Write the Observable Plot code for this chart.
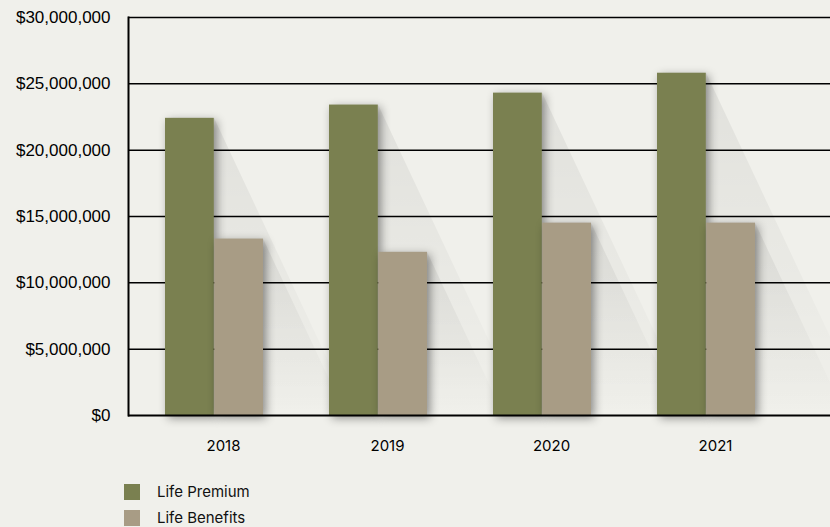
<!DOCTYPE html>
<html><head><meta charset="utf-8">
<script src="https://cdn.jsdelivr.net/npm/d3@7"></script>
<script src="https://cdn.jsdelivr.net/npm/@observablehq/plot@0.6"></script>
<style>
html,body{margin:0;padding:0;background:#f0f0eb;}
#chart svg{display:block;}
g[aria-label="bar"]{filter:drop-shadow(3px 3px 5px rgba(0,0,0,0.42));}
#legend{padding-left:124px;margin-top:14px;font-family:"Inter","Open Sans",sans-serif;font-size:15px;line-height:16px;color:#111;}
#legend .item{display:flex;align-items:center;height:16px;margin-bottom:10px;}
#legend .sw{width:16px;height:16px;margin-right:17px;}
</style></head><body>
<div id="chart"></div>
<div id="legend"></div>
<script>
const years = ["2018", "2019", "2020", "2021"];
const lifePremium = [22400000, 23400000, 24300000, 25800000];
const lifeBenefits = [13300000, 12300000, 14500000, 14500000];
const yTicks = [0, 5000000, 10000000, 15000000, 20000000, 25000000, 30000000];
const seriesNames = ["Life Premium", "Life Benefits"];
const seriesColors = ["#7a8050", "#a89c85"];

const premiumRows = years.map((y, i) => ({year: y, value: lifePremium[i]}));
const benefitRows = years.map((y, i) => ({year: y, value: lifeBenefits[i]}));
const fmt = d => "$" + d3.format(",")(d);

const chart = Plot.plot({
  width: 830, height: 470,
  marginLeft: 128, marginRight: 0, marginTop: 17, marginBottom: 55,
  style: {background: "transparent", color: "#000", overflow: "visible"},
  x: {domain: years, range: [132, 788], paddingInner: 0.4, paddingOuter: 0.2, label: null},
  y: {domain: [0, 30000000], label: null},
  marks: [
    Plot.ruleY(yTicks.filter(d => d > 0), {stroke: "#000", strokeWidth: 1.5}),
    Plot.barY(premiumRows, {x: "year", y: "value", fill: seriesColors[0], insetRight: 49.2}),
    Plot.barY(benefitRows, {x: "year", y: "value", fill: seriesColors[1], insetLeft: 49.2}),
    Plot.ruleY([0], {stroke: "#000", strokeWidth: 2}),
    Plot.frame({anchor: "left", stroke: "#000", strokeWidth: 2}),
    Plot.axisY(yTicks, {tickFormat: fmt, tickSize: 0, tickPadding: 18, fontSize: 17, fontFamily: "Liberation Sans, Arial, sans-serif", label: null}),
    Plot.axisX({tickSize: 0, tickPadding: 25, dx: 9, fontSize: 15, fontFamily: "Inter, Open Sans, sans-serif", label: null})
  ]
});
document.getElementById("chart").appendChild(chart);

// long diagonal shadows computed from the scales
const sx = chart.scale("x"), sy = chart.scale("y");
const bw = sx.bandwidth;
const svg = d3.select(chart);
const defs = svg.insert("defs", ":first-child");
const grad = defs.append("linearGradient").attr("id", "lsh").attr("x1", 0).attr("y1", 0).attr("x2", 0).attr("y2", 1);
grad.append("stop").attr("offset", "0%").attr("stop-color", "#000").attr("stop-opacity", 0.065);
grad.append("stop").attr("offset", "100%").attr("stop-color", "#000").attr("stop-opacity", 0.0);
const firstBar = chart.querySelector('g[aria-label="bar"]');
const g = d3.select(chart).insert("g", () => firstBar).attr("class", "longshadow");
const y0 = sy.apply(0);
const shapes = [];
years.forEach((yr, i) => {
  const x0 = sx.apply(yr);
  shapes.push({right: x0 + bw / 2, top: sy.apply(lifePremium[i])});
  shapes.push({right: x0 + bw, top: sy.apply(lifeBenefits[i])});
});
shapes.forEach(s => {
  const h = y0 - s.top;
  g.append("polygon")
    .attr("points", `${s.right},${s.top} ${s.right + 0.47 * h},${y0} ${s.right},${y0}`)
    .attr("fill", "url(#lsh)");
});

// legend
const leg = document.getElementById("legend");
seriesNames.forEach((n, i) => {
  const it = document.createElement("div");
  it.className = "item";
  it.innerHTML = `<div class="sw" style="background:${seriesColors[i]}"></div><span>${n}</span>`;
  leg.appendChild(it);
});
</script>
</body></html>
